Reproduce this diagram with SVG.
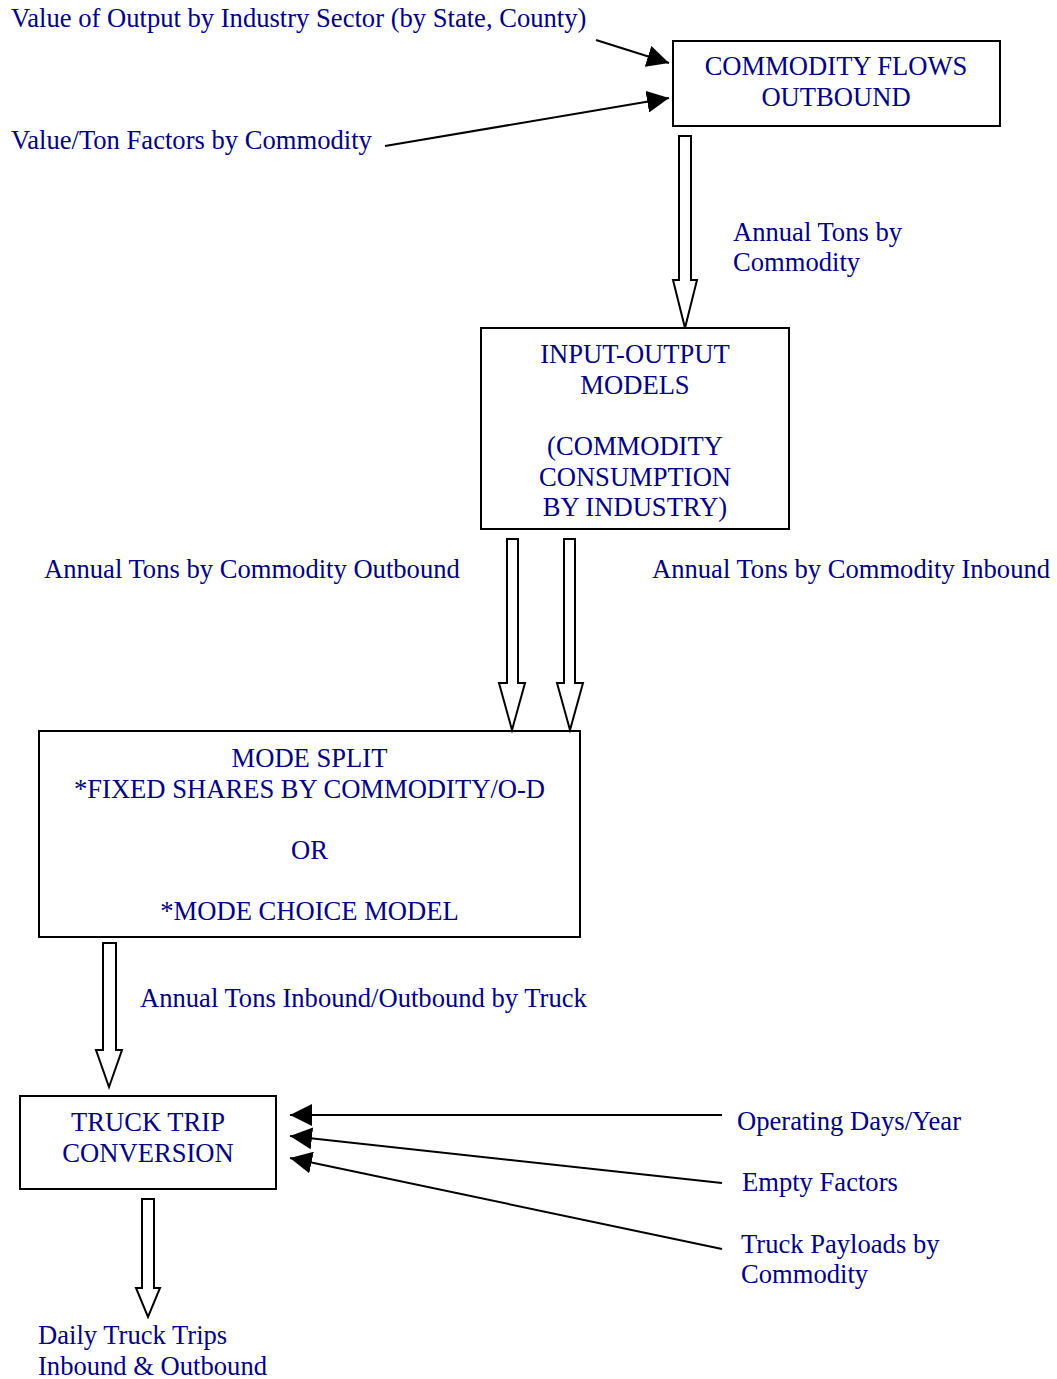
<svg xmlns="http://www.w3.org/2000/svg" width="1057" height="1379" viewBox="0 0 1057 1379">
  <style>
    .box { fill: #ffffff; stroke: #000000; stroke-width: 2; }
    .t { font-family: "Liberation Serif", "Times New Roman", serif; font-size: 26.6px; fill: #000080; }
    .c { text-anchor: middle; }
    .line { stroke: #000000; stroke-width: 2; fill: none; marker-end: url(#head); }
    .block { fill: #ffffff; stroke: #000000; stroke-width: 2; stroke-linejoin: miter; }
  </style>
  <defs>
    <marker id="head" markerUnits="userSpaceOnUse" markerWidth="24" markerHeight="22" refX="22" refY="11" orient="auto">
      <path d="M0,0 L22,11 L0,22 Z" fill="#000000"/>
    </marker>
  </defs>
  <rect width="1057" height="1379" fill="#ffffff"/>

  <!-- free-standing input / output labels -->
  <g id="labels">
    <text class="t" x="11" y="27">Value of Output by Industry Sector (by State, County)</text>
    <text class="t" x="11" y="149">Value/Ton Factors by Commodity</text>
    <text class="t" x="733" y="241">Annual Tons by</text>
    <text class="t" x="733" y="271">Commodity</text>
    <text class="t" x="44" y="578">Annual Tons by Commodity Outbound</text>
    <text class="t" x="652" y="578">Annual Tons by Commodity Inbound</text>
    <text class="t" x="140" y="1007">Annual Tons Inbound/Outbound by Truck</text>
    <text class="t" x="737" y="1130">Operating Days/Year</text>
    <text class="t" x="742" y="1191">Empty Factors</text>
    <text class="t" x="741" y="1253">Truck Payloads by</text>
    <text class="t" x="741" y="1283">Commodity</text>
    <text class="t" x="38" y="1344">Daily Truck Trips</text>
    <text class="t" x="38" y="1375">Inbound &amp; Outbound</text>
  </g>

  <g id="commodity-flows">
    <rect class="box" x="673" y="41" width="327" height="85"/>
    <text class="t c" x="836" y="75">COMMODITY FLOWS</text>
    <text class="t c" x="836" y="106">OUTBOUND</text>
  </g>

  <g id="input-output">
    <rect class="box" x="481" y="328" width="308" height="201"/>
    <text class="t c" x="635" y="363">INPUT-OUTPUT</text>
    <text class="t c" x="635" y="394">MODELS</text>
    <text class="t c" x="635" y="455">(COMMODITY</text>
    <text class="t c" x="635" y="486">CONSUMPTION</text>
    <text class="t c" x="635" y="516">BY INDUSTRY)</text>
  </g>

  <g id="mode-split">
    <rect class="box" x="39" y="731" width="541" height="206"/>
    <text class="t c" x="309.5" y="767">MODE SPLIT</text>
    <text class="t c" x="309.5" y="798">*FIXED SHARES BY COMMODITY/O-D</text>
    <text class="t c" x="309.5" y="859">OR</text>
    <text class="t c" x="309.5" y="920">*MODE CHOICE MODEL</text>
  </g>

  <g id="truck-trip">
    <rect class="box" x="20" y="1096" width="256" height="93"/>
    <text class="t c" x="148" y="1131">TRUCK TRIP</text>
    <text class="t c" x="148" y="1162">CONVERSION</text>
  </g>

  <g id="connectors">
    <line class="line" x1="596" y1="40" x2="669" y2="63"/>
    <line class="line" x1="385" y1="146" x2="669" y2="98"/>
    <polygon class="block" points="679,136 691,136 691,280 697,280 685,328 673,280 679,280"/>
    <polygon class="block" points="507,539 518,539 518,683 525,683 512,730 499,683 507,683"/>
    <polygon class="block" points="564,539 575,539 575,683 583,683 570,730 557,683 564,683"/>
    <polygon class="block" points="103,943 116,943 116,1050 122,1050 109,1087 96,1050 103,1050"/>
    <line class="line" x1="722" y1="1115" x2="290" y2="1115"/>
    <line class="line" x1="722" y1="1183" x2="290" y2="1136"/>
    <line class="line" x1="722" y1="1249" x2="290" y2="1158"/>
    <polygon class="block" points="142,1199 154,1199 154,1288 160,1288 148,1317 136,1288 142,1288"/>
  </g>
</svg>
